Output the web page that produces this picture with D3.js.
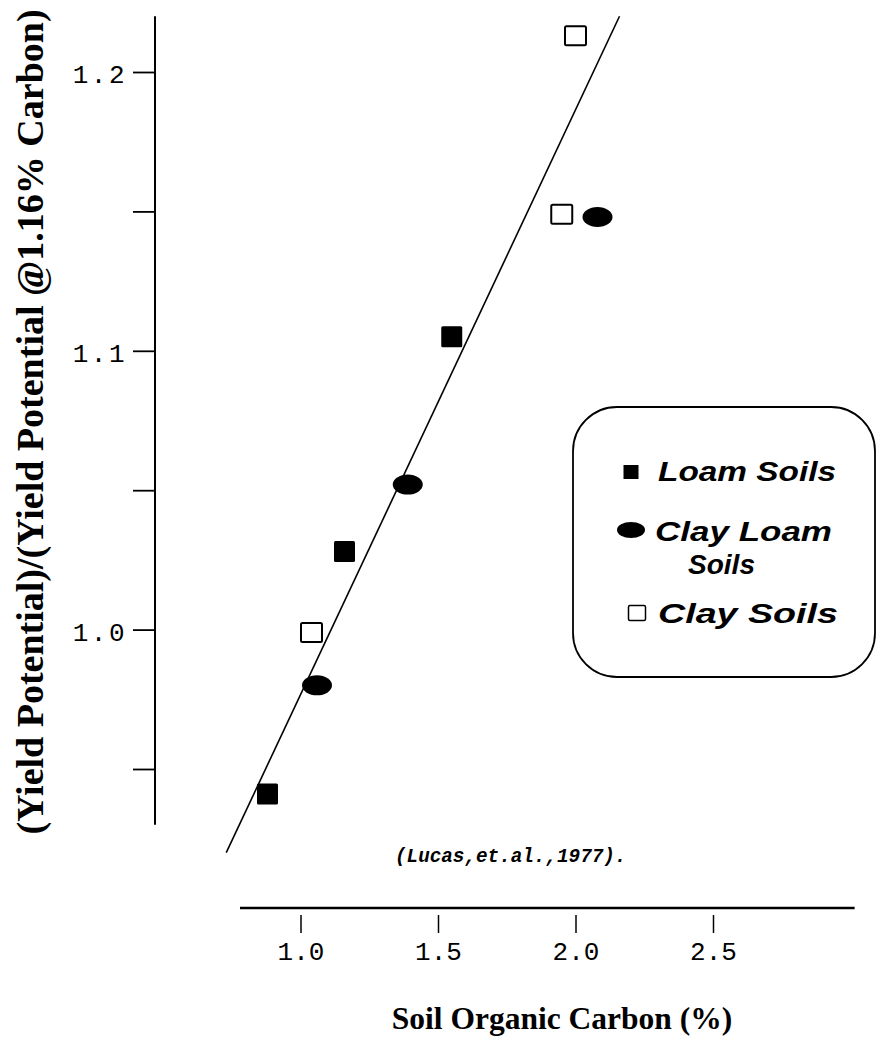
<!DOCTYPE html>
<html>
<head>
<meta charset="utf-8">
<script src="https://cdn.jsdelivr.net/npm/d3@7"></script>
<style>
  body { margin: 0; background: #fff; }
  svg { display: block; }
</style>
</head>
<body>
<div id="chart"></div>
<script>
// values (soil organic carbon %, relative yield potential)
const loamX = [0.88, 1.16, 1.55];
const loamY = [0.941, 1.028, 1.105];
const clayLoamX = [1.06, 1.39, 2.08];
const clayLoamY = [0.980, 1.052, 1.148];
const clayX = [1.04, 1.95, 2.00];
const clayY = [0.999, 1.149, 1.213];

// fitted line end points
const fitX = [0.73, 2.16];
const fitY = [0.920, 1.220];

const xTicks = [1.0, 1.5, 2.0, 2.5];
const xTickLabels = ["1.0", "1.5", "2.0", "2.5"];
const yTicks = [0.95, 1.0, 1.05, 1.1, 1.15, 1.2];
const yTickLabels = ["", "1.0", "", "1.1", "", "1.2"];

// how far the axis lines run, in data units
const xAxisExtent = [0.78, 3.015];
const yAxisExtent = [0.93, 1.22];

const legendLabels = [["Loam Soils"], ["Clay Loam", "Soils"], ["Clay Soils"]];
const legendKinds = ["loam", "clayLoam", "clay"];

const width = 876, height = 1044;
const serif = "'Liberation Serif', 'Times New Roman', serif";
const mono = "'Liberation Mono', 'Courier New', monospace";
const sans = "'Liberation Sans', Arial, sans-serif";

const svg = d3.select("#chart").append("svg")
    .attr("width", width)
    .attr("height", height);

const xScale = d3.scaleLinear().domain([1.0, 2.5]).range([300.5, 713]);
const yScale = d3.scaleLinear().domain([0.95, 1.2]).range([769, 72]);

const yAxisX = 155;
const xAxisY = 908;

// y axis: line + ticks going left
svg.append("line")
    .attr("x1", yAxisX).attr("x2", yAxisX)
    .attr("y1", yScale(yAxisExtent[0])).attr("y2", yScale(yAxisExtent[1]))
    .attr("stroke", "#000").attr("stroke-width", 2);

const yAxisG = svg.append("g")
    .attr("transform", "translate(" + yAxisX + ",0)")
    .call(d3.axisLeft(yScale)
        .tickValues(yTicks)
        .tickSize(22)
        .tickPadding(6)
        .tickFormat((d, i) => yTickLabels[i]));
yAxisG.select(".domain").remove();
yAxisG.selectAll(".tick line").attr("stroke-width", 1.8);
yAxisG.selectAll(".tick text")
    .attr("font-family", mono)
    .attr("font-size", 26)
    .attr("letter-spacing", 2.5)
    .attr("fill", "#000")
    .attr("dy", "0.42em");

// x axis: line, then ticks hanging a little below it
svg.append("line")
    .attr("x1", xScale(xAxisExtent[0])).attr("x2", xScale(xAxisExtent[1]))
    .attr("y1", xAxisY).attr("y2", xAxisY)
    .attr("stroke", "#000").attr("stroke-width", 2.5);

const xAxisG = svg.append("g")
    .attr("transform", "translate(0," + (xAxisY + 7) + ")")
    .call(d3.axisBottom(xScale)
        .tickValues(xTicks)
        .tickSize(18)
        .tickPadding(9)
        .tickFormat((d, i) => xTickLabels[i]));
xAxisG.select(".domain").remove();
xAxisG.selectAll(".tick line").attr("stroke-width", 1.5);
xAxisG.selectAll(".tick text")
    .attr("font-family", mono)
    .attr("font-size", 26)
    .attr("fill", "#000");

// axis titles
svg.append("text")
    .attr("x", 562).attr("y", 1029)
    .attr("text-anchor", "middle")
    .attr("font-family", serif)
    .attr("font-weight", "bold")
    .attr("font-size", 31.5)
    .text("Soil Organic Carbon (%)");

svg.append("text")
    .attr("transform", "translate(43,422) rotate(-90)")
    .attr("text-anchor", "middle")
    .attr("font-family", serif)
    .attr("font-weight", "bold")
    .attr("font-size", 38)
    .text("(Yield Potential)/(Yield Potential @1.16% Carbon)");

// source note
svg.append("text")
    .attr("x", 395).attr("y", 862)
    .attr("font-family", mono)
    .attr("font-style", "italic")
    .attr("font-weight", "bold")
    .attr("font-size", 19.3)
    .text("(Lucas,et.al.,1977).");

// regression line
svg.append("line")
    .attr("x1", xScale(fitX[0])).attr("y1", yScale(fitY[0]))
    .attr("x2", xScale(fitX[1])).attr("y2", yScale(fitY[1]))
    .attr("stroke", "#000").attr("stroke-width", 1.6);

// points
const loamData = loamX.map((x, i) => ({x: x, y: loamY[i]}));
const clayLoamData = clayLoamX.map((x, i) => ({x: x, y: clayLoamY[i]}));
const clayData = clayX.map((x, i) => ({x: x, y: clayY[i]}));

svg.selectAll(".loamPt").data(loamData).join("rect")
    .attr("class", "loamPt")
    .attr("x", d => xScale(d.x) - 10.5)
    .attr("y", d => yScale(d.y) - 10.5)
    .attr("width", 21).attr("height", 21)
    .attr("rx", 1.5)
    .attr("fill", "#000");

svg.selectAll(".clayLoamPt").data(clayLoamData).join("ellipse")
    .attr("class", "clayLoamPt")
    .attr("cx", d => xScale(d.x))
    .attr("cy", d => yScale(d.y))
    .attr("rx", 15).attr("ry", 10)
    .attr("fill", "#000");

svg.selectAll(".clayPt").data(clayData).join("rect")
    .attr("class", "clayPt")
    .attr("x", d => xScale(d.x) - 10.5)
    .attr("y", d => yScale(d.y) - 9.5)
    .attr("width", 21).attr("height", 19)
    .attr("rx", 1.5)
    .attr("fill", "#fff")
    .attr("stroke", "#000")
    .attr("stroke-width", 2);

// legend box
const legend = svg.append("g").attr("transform", "translate(573,407)");
legend.append("rect")
    .attr("x", 0).attr("y", 0)
    .attr("width", 302).attr("height", 270)
    .attr("rx", 44).attr("ry", 44)
    .attr("fill", "#fff")
    .attr("stroke", "#000")
    .attr("stroke-width", 1.8);

// row layout: symbol centre y, text baselines, text x, text widths
const rowSymY = [65, 123, 206];
const rowSymX = [58, 58, 64];
const rowTextY = [[74], [134, 167], [216]];
const rowTextX = [[85], [82, 115], [85]];
const rowTextW = [[178], [177, 67], [180]];

legendKinds.forEach((kind, i) => {
    const row = legend.append("g");
    if (kind === "loam") {
        row.append("rect")
            .attr("x", rowSymX[i] - 7.5).attr("y", rowSymY[i] - 7)
            .attr("width", 15).attr("height", 14)
            .attr("fill", "#000");
    } else if (kind === "clayLoam") {
        row.append("ellipse")
            .attr("cx", rowSymX[i]).attr("cy", rowSymY[i])
            .attr("rx", 14).attr("ry", 8)
            .attr("fill", "#000");
    } else {
        row.append("rect")
            .attr("x", rowSymX[i] - 8.5).attr("y", rowSymY[i] - 7.5)
            .attr("width", 17).attr("height", 15)
            .attr("rx", 1.5)
            .attr("fill", "#fff")
            .attr("stroke", "#000")
            .attr("stroke-width", 1.5);
    }
    legendLabels[i].forEach((line, j) => {
        row.append("text")
            .attr("x", rowTextX[i][j])
            .attr("y", rowTextY[i][j])
            .attr("font-family", sans)
            .attr("font-weight", "bold")
            .attr("font-style", "italic")
            .attr("font-size", 28)
            .attr("textLength", rowTextW[i][j])
            .attr("lengthAdjust", "spacingAndGlyphs")
            .text(line);
    });
});
</script>
</body>
</html>
